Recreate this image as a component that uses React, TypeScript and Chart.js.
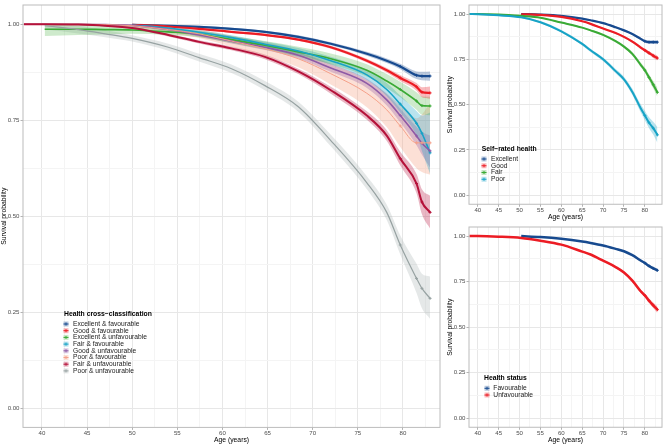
import React, { useEffect, useRef } from 'react';
import { Chart, registerables } from 'chart.js';

Chart.register(...registerables);

const FONT = '"Liberation Sans", Arial, Helvetica, sans-serif';

// ---------- axis ticks ----------
const xMajorTicks = [40, 45, 50, 55, 60, 65, 70, 75, 80];
const xMinorTicks = [42.5, 47.5, 52.5, 57.5, 62.5, 67.5, 72.5, 77.5, 82.5];
const xTickLabels = ['40', '45', '50', '55', '60', '65', '70', '75', '80'];
const yMajorTicks = [0, 0.25, 0.5, 0.75, 1];
const yMinorTicks = [0.125, 0.375, 0.625, 0.875];
const yTickLabels = ['0.00', '0.25', '0.50', '0.75', '1.00'];

// ---------- main panel: health cross-classification ----------
const mainAges = [38, 40.3, 44, 47, 50, 54, 57.4, 61, 64.7, 68.4, 72, 76, 78.2, 79.7, 81.5, 82.1, 83];

const excFavS = [null, null, null, null, 0.998, 0.996, 0.993, 0.988, 0.980, 0.967, 0.949, 0.923, 0.905, 0.890, 0.867, 0.865, 0.865];
const excFavLo = [null, null, null, null, 0.995, 0.993, 0.990, 0.985, 0.977, 0.963, 0.945, 0.918, 0.899, 0.883, 0.857, 0.854, 0.853];
const excFavHi = [null, null, null, null, 1.0, 0.999, 0.996, 0.991, 0.983, 0.971, 0.953, 0.928, 0.911, 0.897, 0.877, 0.876, 0.877];

const goodFavS = [null, null, null, null, 0.998, 0.994, 0.988, 0.980, 0.972, 0.960, 0.940, 0.905, 0.880, 0.860, 0.837, 0.823, 0.821];
const goodFavLo = [null, null, null, null, 0.996, 0.992, 0.986, 0.978, 0.969, 0.957, 0.936, 0.900, 0.874, 0.852, 0.827, 0.810, 0.806];
const goodFavHi = [null, null, null, null, 1.0, 0.996, 0.990, 0.982, 0.975, 0.963, 0.944, 0.910, 0.886, 0.868, 0.847, 0.836, 0.838];

const excUnfS = [null, 0.987, 0.987, 0.986, 0.985, 0.980, 0.974, 0.960, 0.945, 0.928, 0.910, 0.880, 0.852, 0.830, 0.800, 0.788, 0.787];
const excUnfLo = [null, 0.969, 0.972, 0.973, 0.975, 0.972, 0.966, 0.951, 0.934, 0.915, 0.896, 0.864, 0.834, 0.810, 0.777, 0.764, 0.763];
const excUnfHi = [null, 0.998, 0.998, 0.997, 0.994, 0.988, 0.982, 0.969, 0.956, 0.941, 0.924, 0.896, 0.870, 0.850, 0.823, 0.812, 0.811];

const fairFavS = [null, null, null, null, 0.998, 0.990, 0.979, 0.965, 0.948, 0.930, 0.905, 0.868, 0.830, 0.792, 0.742, 0.716, 0.665];
const fairFavLo = [null, null, null, null, 0.995, 0.986, 0.974, 0.959, 0.941, 0.922, 0.895, 0.855, 0.813, 0.770, 0.710, 0.670, 0.610];
const fairFavHi = [null, null, null, null, 1.0, 0.994, 0.984, 0.971, 0.955, 0.938, 0.915, 0.881, 0.847, 0.814, 0.774, 0.762, 0.770];

const goodUnfS = [1.0, 1.0, 1.0, 0.999, 0.997, 0.986, 0.972, 0.956, 0.940, 0.919, 0.886, 0.846, 0.803, 0.762, 0.709, 0.690, 0.670];
const goodUnfLo = [1.0, 1.0, 0.999, 0.997, 0.994, 0.982, 0.967, 0.950, 0.933, 0.911, 0.876, 0.834, 0.788, 0.744, 0.685, 0.660, 0.626];
const goodUnfHi = [1.0, 1.0, 1.0, 1.0, 1.0, 0.990, 0.977, 0.962, 0.947, 0.927, 0.896, 0.858, 0.818, 0.780, 0.733, 0.720, 0.710];

const poorFavS = [1.0, 1.0, 1.0, 0.999, 0.996, 0.986, 0.975, 0.956, 0.936, 0.910, 0.871, 0.820, 0.777, 0.735, 0.691, 0.691, 0.691];
const poorFavLo = [1.0, 1.0, 0.998, 0.995, 0.990, 0.977, 0.964, 0.942, 0.918, 0.888, 0.843, 0.784, 0.732, 0.680, 0.625, 0.615, 0.608];
const poorFavHi = [1.0, 1.0, 1.0, 1.0, 1.0, 0.994, 0.986, 0.970, 0.953, 0.931, 0.898, 0.855, 0.820, 0.788, 0.755, 0.765, 0.795];

const fairUnfS = [1.0, 1.0, 0.999, 0.996, 0.990, 0.972, 0.954, 0.937, 0.915, 0.877, 0.828, 0.762, 0.710, 0.650, 0.585, 0.537, 0.510];
const fairUnfLo = [1.0, 1.0, 0.998, 0.994, 0.987, 0.968, 0.950, 0.932, 0.909, 0.870, 0.819, 0.751, 0.696, 0.632, 0.560, 0.505, 0.468];
const fairUnfHi = [1.0, 1.0, 1.0, 0.998, 0.993, 0.976, 0.958, 0.942, 0.921, 0.884, 0.837, 0.773, 0.724, 0.668, 0.610, 0.570, 0.553];

const poorUnfS = [null, 0.996, 0.986, 0.975, 0.963, 0.940, 0.913, 0.884, 0.840, 0.785, 0.697, 0.587, 0.510, 0.425, 0.338, 0.312, 0.286];
const poorUnfLo = [null, 0.986, 0.976, 0.966, 0.955, 0.931, 0.903, 0.873, 0.828, 0.772, 0.682, 0.570, 0.490, 0.400, 0.300, 0.260, 0.233];
const poorUnfHi = [null, 1.0, 0.995, 0.984, 0.971, 0.949, 0.923, 0.895, 0.852, 0.798, 0.712, 0.604, 0.530, 0.450, 0.376, 0.350, 0.343];

// ---------- top right: self-rated health ----------
const srAges = [38, 40, 45, 50.4, 55, 60, 65, 67, 70, 73, 75, 77, 79, 80, 81, 82, 83];

const srExcS = [null, null, null, 1.0, 0.997, 0.990, 0.975, 0.966, 0.950, 0.927, 0.910, 0.890, 0.863, 0.850, 0.845, 0.845, 0.845];
const srExcLo = [null, null, null, 0.999, 0.995, 0.988, 0.972, 0.963, 0.946, 0.922, 0.905, 0.884, 0.856, 0.842, 0.836, 0.835, 0.834];
const srExcHi = [null, null, null, 1.0, 0.999, 0.992, 0.978, 0.969, 0.954, 0.932, 0.915, 0.896, 0.870, 0.858, 0.854, 0.855, 0.856];

const srGoodS = [null, null, null, 0.999, 0.995, 0.984, 0.960, 0.946, 0.920, 0.895, 0.874, 0.848, 0.815, 0.800, 0.785, 0.770, 0.757];
const srGoodLo = [null, null, null, 0.998, 0.993, 0.982, 0.957, 0.943, 0.916, 0.890, 0.868, 0.841, 0.807, 0.791, 0.775, 0.758, 0.743];
const srGoodHi = [null, null, null, 1.0, 0.997, 0.986, 0.963, 0.949, 0.924, 0.900, 0.880, 0.855, 0.823, 0.809, 0.795, 0.782, 0.771];

const srFairS = [1.0, 1.0, 0.998, 0.990, 0.980, 0.953, 0.925, 0.910, 0.885, 0.850, 0.820, 0.780, 0.720, 0.690, 0.650, 0.610, 0.568];
const srFairLo = [1.0, 1.0, 0.996, 0.987, 0.977, 0.949, 0.921, 0.905, 0.879, 0.843, 0.812, 0.770, 0.708, 0.676, 0.634, 0.590, 0.543];
const srFairHi = [1.0, 1.0, 1.0, 0.993, 0.983, 0.957, 0.929, 0.915, 0.891, 0.857, 0.828, 0.790, 0.732, 0.704, 0.666, 0.630, 0.593];

const srPoorS = [1.0, 0.999, 0.993, 0.982, 0.955, 0.905, 0.835, 0.800, 0.750, 0.685, 0.640, 0.570, 0.480, 0.440, 0.400, 0.370, 0.333];
const srPoorLo = [1.0, 0.997, 0.989, 0.977, 0.949, 0.898, 0.827, 0.791, 0.740, 0.673, 0.626, 0.553, 0.458, 0.414, 0.370, 0.335, 0.290];
const srPoorHi = [1.0, 1.0, 0.997, 0.987, 0.961, 0.912, 0.843, 0.809, 0.760, 0.697, 0.654, 0.587, 0.502, 0.466, 0.430, 0.405, 0.376];

// ---------- bottom right: health status ----------
const hsAges = [38, 40, 45, 50.4, 55, 60, 65, 67, 70, 73, 75, 77, 79, 80, 81, 82, 83];

const hsFavS = [null, null, null, 1.0, 0.995, 0.985, 0.970, 0.962, 0.948, 0.930, 0.917, 0.895, 0.866, 0.852, 0.836, 0.823, 0.812];
const hsFavLo = [null, null, null, 0.999, 0.994, 0.983, 0.968, 0.960, 0.945, 0.927, 0.913, 0.891, 0.861, 0.846, 0.829, 0.815, 0.803];
const hsFavHi = [null, null, null, 1.0, 0.996, 0.987, 0.972, 0.964, 0.951, 0.933, 0.921, 0.899, 0.871, 0.858, 0.843, 0.831, 0.821];

const hsUnfS = [1.0, 1.0, 0.997, 0.990, 0.975, 0.953, 0.915, 0.899, 0.865, 0.830, 0.800, 0.755, 0.697, 0.674, 0.645, 0.620, 0.596];
const hsUnfLo = [1.0, 0.999, 0.995, 0.988, 0.973, 0.950, 0.911, 0.895, 0.860, 0.824, 0.793, 0.747, 0.687, 0.663, 0.632, 0.605, 0.578];
const hsUnfHi = [1.0, 1.0, 0.999, 0.992, 0.977, 0.956, 0.919, 0.903, 0.870, 0.836, 0.807, 0.763, 0.707, 0.685, 0.658, 0.635, 0.614];

// ---------- colours ----------
const BLUE = '#174a8f';
const RED = '#ec1c24';
const GREEN = '#3aaa35';
const CYAN = '#17a3c6';
const PURPLE = '#8e5aa6';
const SALMON = '#f5a08a';
const CRIMSON = '#b5123a';
const GREY = '#97a2a2';

type Series = {
  label: string;
  color: string;
  band: string;
  width: number;
  s: (number | null)[];
  lo: (number | null)[];
  hi: (number | null)[];
};

const mainSeries: Series[] = [
  { label: 'Excellent & favourable', color: BLUE, band: 'rgba(23,74,143,0.3)', width: 2.2, s: excFavS, lo: excFavLo, hi: excFavHi },
  { label: 'Good & favourable', color: RED, band: 'rgba(236,28,36,0.3)', width: 2.2, s: goodFavS, lo: goodFavLo, hi: goodFavHi },
  { label: 'Excellent & unfavourable', color: GREEN, band: 'rgba(58,170,53,0.25)', width: 1.6, s: excUnfS, lo: excUnfLo, hi: excUnfHi },
  { label: 'Fair & favourable', color: CYAN, band: 'rgba(23,163,198,0.3)', width: 1.6, s: fairFavS, lo: fairFavLo, hi: fairFavHi },
  { label: 'Good & unfavourable', color: PURPLE, band: 'rgba(142,90,166,0.3)', width: 1.6, s: goodUnfS, lo: goodUnfLo, hi: goodUnfHi },
  { label: 'Poor & favourable', color: SALMON, band: 'rgba(247,165,138,0.35)', width: 1.0, s: poorFavS, lo: poorFavLo, hi: poorFavHi },
  { label: 'Fair & unfavourable', color: CRIMSON, band: 'rgba(181,18,58,0.3)', width: 2.0, s: fairUnfS, lo: fairUnfLo, hi: fairUnfHi },
  { label: 'Poor & unfavourable', color: GREY, band: 'rgba(175,185,185,0.32)', width: 1.2, s: poorUnfS, lo: poorUnfLo, hi: poorUnfHi },
];

const srSeries: Series[] = [
  { label: 'Excellent', color: BLUE, band: 'rgba(23,74,143,0.3)', width: 2.2, s: srExcS, lo: srExcLo, hi: srExcHi },
  { label: 'Good', color: RED, band: 'rgba(236,28,36,0.3)', width: 2.2, s: srGoodS, lo: srGoodLo, hi: srGoodHi },
  { label: 'Fair', color: GREEN, band: 'rgba(58,170,53,0.3)', width: 2.0, s: srFairS, lo: srFairLo, hi: srFairHi },
  { label: 'Poor', color: CYAN, band: 'rgba(23,163,198,0.3)', width: 2.0, s: srPoorS, lo: srPoorLo, hi: srPoorHi },
];

const hsSeries: Series[] = [
  { label: 'Favourable', color: BLUE, band: 'rgba(23,74,143,0.3)', width: 2.5, s: hsFavS, lo: hsFavLo, hi: hsFavHi },
  { label: 'Unfavourable', color: RED, band: 'rgba(236,28,36,0.3)', width: 2.5, s: hsUnfS, lo: hsUnfLo, hi: hsUnfHi },
];

const GRID_MAJ = '#e7e7e7';
const GRID_MIN = '#f4f4f4';
const FRAME = '#bcbcbc';
const TICK_COL = '#b3b3b3';

function toPoints(ages: number[], vals: (number | null)[]) {
  const out: { x: number; y: number }[] = [];
  for (let i = 0; i < ages.length; i++) {
    const v = vals[i];
    if (v !== null && v !== undefined) out.push({ x: ages[i], y: v });
  }
  return out;
}

type LegendSpec = { title: string; titleX: number; titleY: number; keyX: number; textX: number; y0: number; step: number };

type PanelProps = {
  left: number;
  top: number;
  width: number;
  height: number;
  areaTop: number;
  areaRight: number;
  yWidth: number;
  xHeight: number;
  titlePad: number;
  yTitlePad: number;
  ages: number[];
  series: Series[];
  legend: LegendSpec;
};

function Panel(props: PanelProps) {
  const ref = useRef<HTMLCanvasElement>(null);
  useEffect(() => {
    const { left, top, areaTop, areaRight, yWidth, xHeight, titlePad, yTitlePad, ages, series, legend } = props;
    const datasets: any[] = [];
    series.forEach((s) => {
      datasets.push({
        data: toPoints(ages, s.hi), borderColor: 'rgba(0,0,0,0)', borderWidth: 0, pointRadius: 0,
        fill: false, order: 50, cubicInterpolationMode: 'monotone',
      });
      datasets.push({
        data: toPoints(ages, s.lo), borderColor: 'rgba(0,0,0,0)', borderWidth: 0, pointRadius: 0,
        fill: '-1', backgroundColor: s.band, order: 50, cubicInterpolationMode: 'monotone',
      });
    });
    series.forEach((s, k) => {
      datasets.push({
        data: toPoints(ages, s.s), borderColor: s.color, borderWidth: s.width, fill: false,
        order: 20 - k, cubicInterpolationMode: 'monotone', pointStyle: 'cross',
        pointBorderColor: s.color, pointBackgroundColor: s.color, pointBorderWidth: 1,
        pointRadius: (c: any) => (c.raw && c.raw.x >= 79.5 ? 1.5 : 0),
      });
    });

    const framePlugin = {
      id: 'frame',
      afterDatasetsDraw(chart: any) {
        const { ctx, chartArea: a } = chart;
        ctx.save();
        ctx.strokeStyle = FRAME;
        ctx.lineWidth = 1;
        ctx.strokeRect(a.left, a.top, a.right - a.left, a.bottom - a.top);
        ctx.restore();
      },
    };

    const legendPlugin = {
      id: 'customLegend',
      afterDraw(chart: any) {
        const ctx = chart.ctx;
        ctx.save();
        ctx.textBaseline = 'middle';
        ctx.textAlign = 'left';
        ctx.fillStyle = '#000';
        ctx.font = `bold 6.8px ${FONT}`;
        ctx.fillText(legend.title, legend.titleX - left, legend.titleY - top);
        ctx.font = `6.7px ${FONT}`;
        series.forEach((s, i) => {
          const cy = legend.y0 - top + i * legend.step;
          const kx = legend.keyX - left;
          ctx.fillStyle = s.band;
          ctx.fillRect(kx - 2.5, cy - 2.5, 5, 5);
          ctx.strokeStyle = s.color;
          ctx.lineWidth = 1;
          ctx.beginPath();
          ctx.moveTo(kx - 2.5, cy);
          ctx.lineTo(kx + 2.5, cy);
          ctx.moveTo(kx, cy - 1.5);
          ctx.lineTo(kx, cy + 1.5);
          ctx.stroke();
          ctx.fillStyle = '#1a1a1a';
          ctx.fillText(s.label, legend.textX - left, cy);
        });
        ctx.restore();
      },
    };

    const allX = [...xMajorTicks, ...xMinorTicks].sort((a, b) => a - b);
    const allY = [...yMajorTicks, ...yMinorTicks].sort((a, b) => a - b);

    const chart = new Chart(ref.current as HTMLCanvasElement, {
      type: 'line',
      data: { datasets },
      plugins: [framePlugin, legendPlugin],
      options: {
        animation: false,
        responsive: false,
        events: [],
        layout: { padding: { top: areaTop, right: areaRight, left: 0, bottom: 0 } },
        plugins: {
          legend: { display: false },
          tooltip: { enabled: false },
          filler: { drawTime: 'beforeDatasetsDraw' },
        },
        scales: {
          x: {
            type: 'linear',
            min: 37.9,
            max: 84.1,
            afterBuildTicks: (sc: any) => {
              sc.ticks = allX.map((v) => ({ value: v }));
            },
            afterFit: (sc: any) => {
              sc.height = xHeight;
              sc.paddingLeft = 0;
              sc.paddingRight = 0;
            },
            ticks: {
              autoSkip: false,
              maxRotation: 0,
              minRotation: 0,
              padding: 0,
              color: '#4d4d4d',
              font: { family: FONT, size: 6.1 },
              callback: (v: any) => {
                const i = xMajorTicks.indexOf(v);
                return i >= 0 ? xTickLabels[i] : '';
              },
            },
            grid: {
              color: (c: any) => (c.tick && xMajorTicks.includes(c.tick.value) ? GRID_MAJ : GRID_MIN),
              tickColor: (c: any) => (c.tick && xMajorTicks.includes(c.tick.value) ? TICK_COL : 'rgba(0,0,0,0)'),
              lineWidth: 1,
              tickLength: 2.5,
              drawTicks: true,
            },
            border: { display: false },
            title: {
              display: true,
              text: 'Age (years)',
              color: '#000',
              font: { family: FONT, size: 6.8 },
              padding: { top: 0, bottom: titlePad },
            },
          },
          y: {
            type: 'linear',
            min: -0.05,
            max: 1.05,
            afterBuildTicks: (sc: any) => {
              sc.ticks = allY.map((v) => ({ value: v }));
            },
            afterFit: (sc: any) => {
              sc.width = yWidth;
              sc.paddingTop = 0;
              sc.paddingBottom = 0;
            },
            ticks: {
              autoSkip: false,
              padding: 1,
              color: '#4d4d4d',
              font: { family: FONT, size: 6.1 },
              callback: (v: any) => {
                const i = yMajorTicks.indexOf(v);
                return i >= 0 ? yTickLabels[i] : '';
              },
            },
            grid: {
              color: (c: any) => (c.tick && yMajorTicks.includes(c.tick.value) ? GRID_MAJ : GRID_MIN),
              tickColor: (c: any) => (c.tick && yMajorTicks.includes(c.tick.value) ? TICK_COL : 'rgba(0,0,0,0)'),
              lineWidth: 1,
              tickLength: 2.5,
              drawTicks: true,
            },
            border: { display: false },
            title: {
              display: true,
              text: 'Survival probability',
              color: '#000',
              font: { family: FONT, size: 6.8 },
              padding: { top: yTitlePad, bottom: 0 },
            },
          },
        },
      } as any,
    });
    return () => chart.destroy();
  }, []);
  return (
    <canvas
      ref={ref}
      width={props.width}
      height={props.height}
      style={{ position: 'absolute', left: props.left, top: props.top, width: props.width, height: props.height }}
    />
  );
}

export default function App() {
  return (
    <div style={{ position: 'fixed', left: 0, top: 0, width: 667, height: 444, background: '#fff', overflow: 'hidden' }}>
      <Panel
        left={0} top={0} width={445} height={444}
        areaTop={0.6} areaRight={2} yWidth={23} xHeight={16.6} titlePad={0} yTitlePad={0.3}
        ages={mainAges} series={mainSeries}
        legend={{ title: 'Health cross\u2212classification', titleX: 64, titleY: 314, keyX: 66, textX: 73, y0: 324, step: 6.7 }}
      />
      <Panel
        left={445} top={0} width={222} height={222}
        areaTop={0.75} areaRight={1} yWidth={24} xHeight={17.75} titlePad={0.9} yTitlePad={0.8}
        ages={srAges} series={srSeries}
        legend={{ title: 'Self\u2212rated health', titleX: 481.7, titleY: 149.3, keyX: 484, textX: 491, y0: 159, step: 6.75 }}
      />
      <Panel
        left={445} top={222} width={222} height={222}
        areaTop={1.75} areaRight={1} yWidth={24} xHeight={16.75} titlePad={0} yTitlePad={0.8}
        ages={hsAges} series={hsSeries}
        legend={{ title: 'Health status', titleX: 484, titleY: 378.3, keyX: 487, textX: 493.3, y0: 388.3, step: 6.7 }}
      />
    </div>
  );
}
